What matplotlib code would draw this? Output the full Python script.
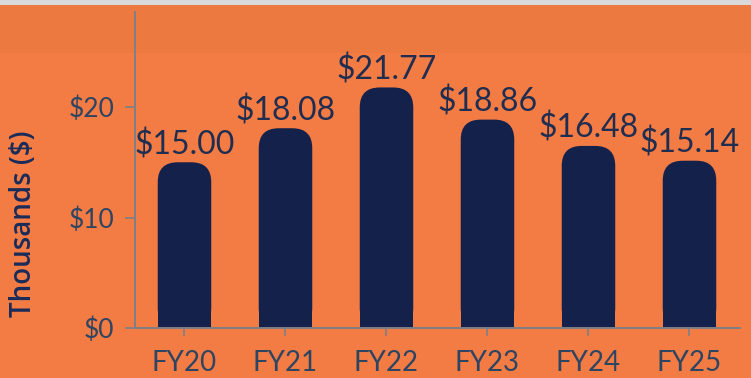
import numpy as np
import matplotlib
matplotlib.use("Agg")
import matplotlib.pyplot as plt
from matplotlib.patches import FancyBboxPatch, Rectangle

years = ["FY20", "FY21", "FY22", "FY23", "FY24", "FY25"]
values = [15.00, 18.08, 21.77, 18.86, 16.48, 15.14]
yticks = [0, 10, 20]
ytick_labels = ["$0", "$10", "$20"]

orange = "#F37C45"
navy = "#14214A"
slate = "#2E4562"
axis_grey = "#7C8088"

plt.rcParams["font.family"] = ["Lato", "DejaVu Sans"]

fig = plt.figure(figsize=(7.51, 3.78), dpi=100, facecolor=orange)
# faint grey strip and slightly darker band along the top, behind everything
fig.patches.append(Rectangle((0, 1 - 53 / 378), 1, 53 / 378, transform=fig.transFigure,
                             facecolor="#EC793F", edgecolor="none", zorder=-2))
fig.patches.append(Rectangle((0, 1 - 5 / 378), 1, 5 / 378, transform=fig.transFigure,
                             facecolor="#D9D9D9", edgecolor="none", zorder=-1))

ax = fig.add_axes([135 / 751, 50 / 378, 605 / 751, 316 / 378])
ax.set_facecolor("none")
ax.set_xlim(-0.49, 5.5)
ax.set_ylim(0, 28.6)

x = np.arange(len(years))
width = 0.53

# rounded-top bars: pixel radius converted to data units on each axis
r_px = 20
px_per_x = ax.transData.transform((1, 0))[0] - ax.transData.transform((0, 0))[0]
px_per_y = ax.transData.transform((0, 1))[1] - ax.transData.transform((0, 0))[1]
rx = r_px / px_per_x
ry = r_px / px_per_y
for xi, v in zip(x, values):
    ax.add_patch(FancyBboxPatch((xi - width / 2, 0), width, v,
                                boxstyle=f"round,pad=0,rounding_size={rx}",
                                mutation_aspect=ry / rx,
                                facecolor=navy, edgecolor="none", zorder=2))
    ax.add_patch(Rectangle((xi - width / 2, 0), width, v - ry,
                           facecolor=navy, edgecolor="none", zorder=2))
    ax.text(xi, v + 0.2, f"${v:.2f}", ha="center", va="bottom",
            fontsize=23, color="#1F2D50", zorder=3)

ax.set_xticks(x)
ax.set_xticklabels(years)
ax.set_yticks(yticks)
ax.set_yticklabels(ytick_labels)
ax.tick_params(axis="x", length=6, width=1.2, color=axis_grey, pad=10,
               labelsize=20, labelcolor=slate)
ax.tick_params(axis="y", length=7, width=1.2, color=axis_grey, pad=8,
               labelsize=19, labelcolor=slate)

for side in ["top", "right"]:
    ax.spines[side].set_visible(False)
for side in ["left", "bottom"]:
    ax.spines[side].set_color(axis_grey)
    ax.spines[side].set_linewidth(1.4)

fig.text(24 / 751, 1 - 224 / 378, "Thousands ($)", rotation=90, ha="center", va="center",
         fontsize=20, fontweight="semibold", color="#1A2C5A",
         family=["Open Sans", "DejaVu Sans"])

fig.savefig("out.png", dpi=100, facecolor=orange)
